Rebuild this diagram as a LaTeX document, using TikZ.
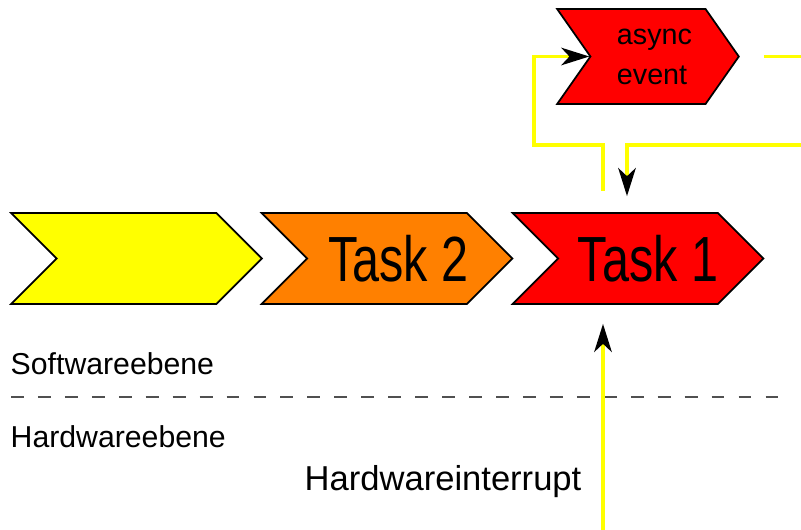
\documentclass[tikz,border=0pt]{standalone}
\usepackage{fontspec}
\setmainfont{Liberation Sans}
\usepackage{tikz}
\usetikzlibrary{
    shapes.symbols,
    arrows.meta,
    calc,
    positioning
}
\definecolor{chevyellow}{RGB}{255,255,0}
\definecolor{chevorange}{RGB}{255,128,0}
\definecolor{chevred}{RGB}{255,0,0}
\definecolor{sepgray}{RGB}{80,80,80}
\tikzset{chev/.style={signal, signal to=east, signal from=west, signal pointer angle=90, draw=black, line width=1.5pt, minimum width=214pt, minimum height=77.7pt, inner sep=0pt}}
\tikzset{tasktext/.style={font=\fontsize{54.5pt}{60pt}\selectfont, inner sep=0pt}}
\tikzset{evtext/.style={font=\fontsize{24.5pt}{34.1pt}\selectfont, align=left, inner sep=0pt}}
\tikzset{levtext/.style={font=\fontsize{25.8pt}{30pt}\selectfont, anchor=base west, inner sep=0pt}}
\tikzset{wire/.style={draw=chevyellow, line width=2.6pt}}
\tikzset{tip/.style={-{Stealth[length=24pt, width=15pt, inset=7pt, black]}}}

\begin{document}
\begin{tikzpicture}[x=0.03cm, y=-0.03cm]
    \useasboundingbox (0,0) rectangle (801,530);
    \node[chev, fill=chevyellow] (task3) at (136.5,258.5) {};
    \node[chev, fill=chevorange, label={[tasktext, xshift=9.5pt]center:\scalebox{0.76}[1]{Task 2}}] (task2) at (387,258.5) {};
    \node[chev, fill=chevred, label={[tasktext, xshift=8.5pt]center:\scalebox{0.76}[1]{Task 1}}] (task1) at (638,258.5) {};
    \node[chev, fill=chevred, signal pointer angle=110, minimum width=155pt, minimum height=81pt, label={[evtext, xshift=5.5pt]center:async\\event}] (async) at (648,56.5) {};
    \node[levtext] (swlevel) at (10.5,374) {Softwareebene};
    \node[levtext] (hwlevel) at (10.5,447) {Hardwareebene};
    \node[font=\fontsize{29.5pt}{34pt}\selectfont, anchor=base west, inner sep=0pt] (hwint) at (304.5,490) {Hardwareinterrupt};
    \draw[dashed, dash pattern=on 11pt off 12pt, sepgray, line width=1.2pt] (11,397) -- (787,397);
    \coordinate (loopout) at (801,56.5);
    \coordinate (loopin) at (801,145);
    \coordinate (t1up) at ($(task1.north)+(-35,-21)$);
    \coordinate (hwsrc) at (603,530);
    \draw[wire, shorten <=20.5pt] (async.east) -- (loopout);
    \draw[wire, tip] (loopin) -| ($(task1.north)+(-11,-16)$);
    \draw[wire, tip] (t1up) |- (534,145) |- (async.west);
    \draw[wire, tip] (hwsrc) -- ($(task1.south -| hwsrc)+(0,19)$);
\end{tikzpicture}
\end{document}
